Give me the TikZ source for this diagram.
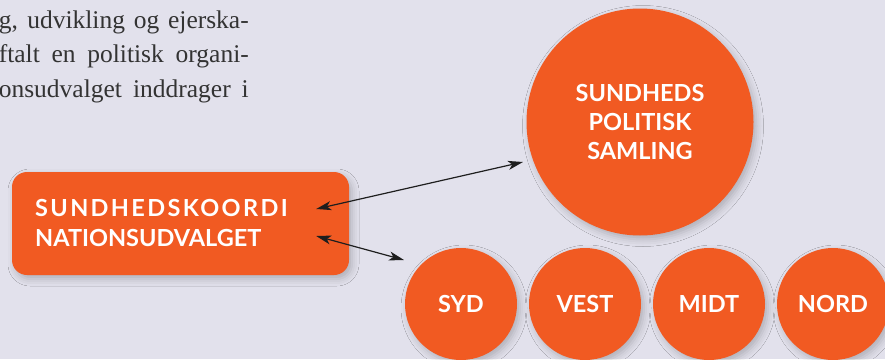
\documentclass[tikz,border=0pt]{standalone}
\usepackage{fontspec}
\setmainfont{Liberation Serif}
\newfontfamily\labelfont{Lato}
\newfontfamily\spacedfont[LetterSpace=10]{Lato}
\usetikzlibrary{positioning, arrows.meta, shadows.blur, calc}
\definecolor{paperbg}{HTML}{E2E1EC}
\definecolor{regorange}{HTML}{F15A22}
\definecolor{arrowdark}{HTML}{1E1E1E}

\begin{document}
\begin{tikzpicture}[x=1pt, y=-1pt, font=\labelfont\bfseries\fontsize{23.5}{29}\selectfont,
  orgbox/.style={fill=regorange, rounded corners=15pt, text=white, align=left,
    blur shadow={shadow xshift=3pt, shadow yshift=-4pt, shadow blur radius=7pt, shadow opacity=22}},
  region/.style={circle, fill=regorange, text=white, inner sep=0pt,
    blur shadow={shadow xshift=3pt, shadow yshift=-4pt, shadow blur radius=7pt, shadow opacity=22}},
  link/.style={draw=arrowdark, line width=1.2pt,
    {Stealth[length=15pt, width=9pt, inset=4pt]}-{Stealth[length=15pt, width=9pt, inset=4pt]}}]
  \fill[paperbg] (0,0) rectangle (885,359);
  \useasboundingbox (0,0) rectangle (885,359);
  % running text (cut at the left, justified)
  \foreach \y/\t in {28/{g, udvikling og ejerska-}, 62/{ftalt en politisk organi-}, 97/{onsudvalget inddrager i}} {
    \node[anchor=base east, inner sep=0pt, font=\rmfamily\fontsize{25.5}{30}\selectfont, text=black!80] at (249,\y) {\makebox[250pt][s]{\t}};
  }
  % committee box
  \node[orgbox, minimum width=337pt, minimum height=103pt] (koord) at (180.5,223.5) {};
  \node[anchor=base west, inner sep=0pt, text=white] (koord-a) at (35,216) {\spacedfont SUNDHEDSKOORDI};
  \node[anchor=base west, inner sep=0pt, text=white] (koord-b) at (35,246) {NATIONSUDVALGET};
  % political assembly
  \node[region, minimum size=227pt, align=center] (samling) at (640,122) {SUNDHEDS\\POLITISK\\SAMLING};
  % the four regions
  \foreach \i/\w in {0/SYD, 1/VEST, 2/MIDT, 3/NORD} {
    \node[region, minimum size=112pt] (reg-\i) at (461+124*\i,304) {\w};
  }
  % arrows
  \coordinate (k-top) at ($(koord.east)+(-33,-14.5)$);
  \coordinate (k-bot) at ($(koord.east)+(-33,12.5)$);
  \coordinate (s-end) at ($(samling.center)+(-117,40)$);
  \coordinate (r-end) at ($(reg-0.center)+(-57,-44)$);
  \draw[link] (k-top) -- (s-end);
  \draw[link] (k-bot) -- (r-end);
\end{tikzpicture}
\end{document}
